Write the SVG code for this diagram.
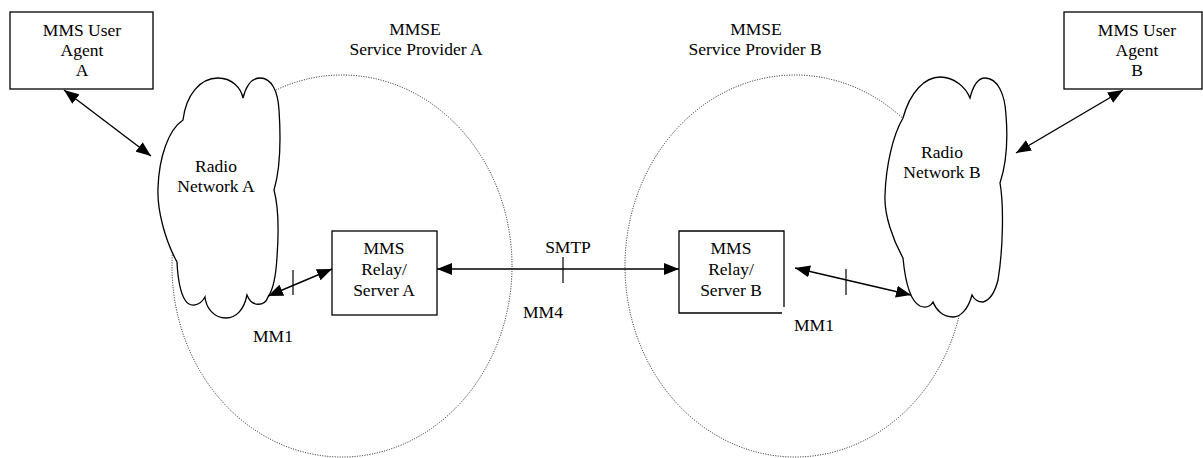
<svg xmlns="http://www.w3.org/2000/svg" width="1203" height="458" viewBox="0 0 1203 458">
<style>
text{font-family:'Liberation Serif','DejaVu Serif',serif;font-size:17.5px;fill:#000;text-anchor:middle}
.box{fill:#fff;stroke:#000;stroke-width:1.3}
.cloud{fill:#fff;stroke:#000;stroke-width:1.3}
.domain{fill:none;stroke:#000;stroke-width:0.9;stroke-dasharray:1 1.5}
.conn{fill:none;stroke:#000;stroke-width:1.4}
.tick{fill:none;stroke:#000;stroke-width:1.2}
</style>
<defs>
<marker id="ah" viewBox="0 0 15 12" refX="15" refY="6" markerWidth="15" markerHeight="12" markerUnits="userSpaceOnUse" orient="auto-start-reverse">
<path d="M0,0 L15,6 L0,12 Z" fill="#000"/>
</marker>
</defs>
<g font-family="Liberation Serif, DejaVu Serif, serif">
<g id="mmse-a">
<ellipse class="domain" cx="342" cy="266" rx="170" ry="191"/>
<text x="415" y="35">MMSE</text>
<text x="416" y="55">Service Provider A</text>
</g>
<g id="mmse-b">
<ellipse class="domain" cx="795" cy="266" rx="170" ry="191"/>
<text x="756" y="35">MMSE</text>
<text x="755" y="55">Service Provider B</text>
</g>
<g id="radio-a">
<path class="cloud" d="M183,120 C186,95 200,78 218,78 C232,78 241,88 243,98 C246,86 252,78 260,78 C272,78 278,92 279,110 C281,140 280,170 274,190 C278,205 279,230 277,257 C276,275 273,290 268,297 C265,306 252,308 247,295 C244,310 236,318 226,318 C214,318 206,308 205,297 C200,306 190,308 185,300 C180,292 178,282 177,262 C165,240 157,210 158,188 C159,158 168,130 183,120 Z"/>
<text x="216" y="172">Radio</text>
<text x="216" y="192">Network A</text>
</g>
<g id="radio-b">
<path class="cloud" d="M903,118 C910,92 925,77 940,77 C955,77 966,88 970,98 C973,86 978,78 985,78 C998,78 1005,95 1006,115 C1008,140 1006,165 1000,183 C1004,205 1003,250 998,280 C995,292 990,300 983,302 C978,302 974,299 972,295 C968,310 960,317 953,317 C943,317 936,310 933,302 C930,307 925,308 920,306 C912,302 906,290 903,258 C893,240 884,215 885,195 C886,165 893,135 903,118 Z"/>
<text x="942" y="158">Radio</text>
<text x="942" y="178">Network B</text>
</g>
<g id="ua-a">
<rect class="box" x="10" y="12" width="143" height="77"/>
<text x="82" y="36">MMS User</text>
<text x="82" y="56">Agent</text>
<text x="82" y="76">A</text>
</g>
<g id="ua-b">
<rect class="box" x="1064" y="12" width="138" height="77"/>
<text x="1137" y="36">MMS User</text>
<text x="1137" y="56">Agent</text>
<text x="1137" y="76">B</text>
</g>
<g id="relay-a">
<rect class="box" x="332" y="231" width="105" height="84"/>
<text x="384" y="254">MMS</text>
<text x="384" y="275">Relay/</text>
<text x="384" y="296">Server A</text>
</g>
<g id="relay-b">
<rect x="679" y="231" width="105" height="82" fill="#fff" stroke="none"/>
<path class="box" fill="none" d="M784,307 V231 H679 V313 H782"/>
<text x="731" y="254">MMS</text>
<text x="731" y="275">Relay/</text>
<text x="731" y="296">Server B</text>
</g>
<g id="connectors">
<line class="conn" x1="64" y1="90" x2="151" y2="156" marker-start="url(#ah)" marker-end="url(#ah)"/>
<line class="conn" x1="1123" y1="90" x2="1016" y2="153" marker-start="url(#ah)" marker-end="url(#ah)"/>
<line class="conn" x1="268" y1="296" x2="332" y2="269" marker-start="url(#ah)" marker-end="url(#ah)"/>
<line class="tick" x1="293" y1="270" x2="293" y2="295"/>
<line class="conn" x1="437" y1="269" x2="679" y2="269" marker-start="url(#ah)" marker-end="url(#ah)"/>
<line class="tick" x1="563" y1="257" x2="563" y2="283"/>
<line class="conn" x1="795" y1="268" x2="911" y2="295" marker-start="url(#ah)" marker-end="url(#ah)"/>
<line class="tick" x1="846" y1="269" x2="846" y2="295"/>
<text x="568" y="253">SMTP</text>
<text x="543" y="318">MM4</text>
<text x="273" y="342">MM1</text>
<text x="814" y="331">MM1</text>
</g>
</g>
</svg>
